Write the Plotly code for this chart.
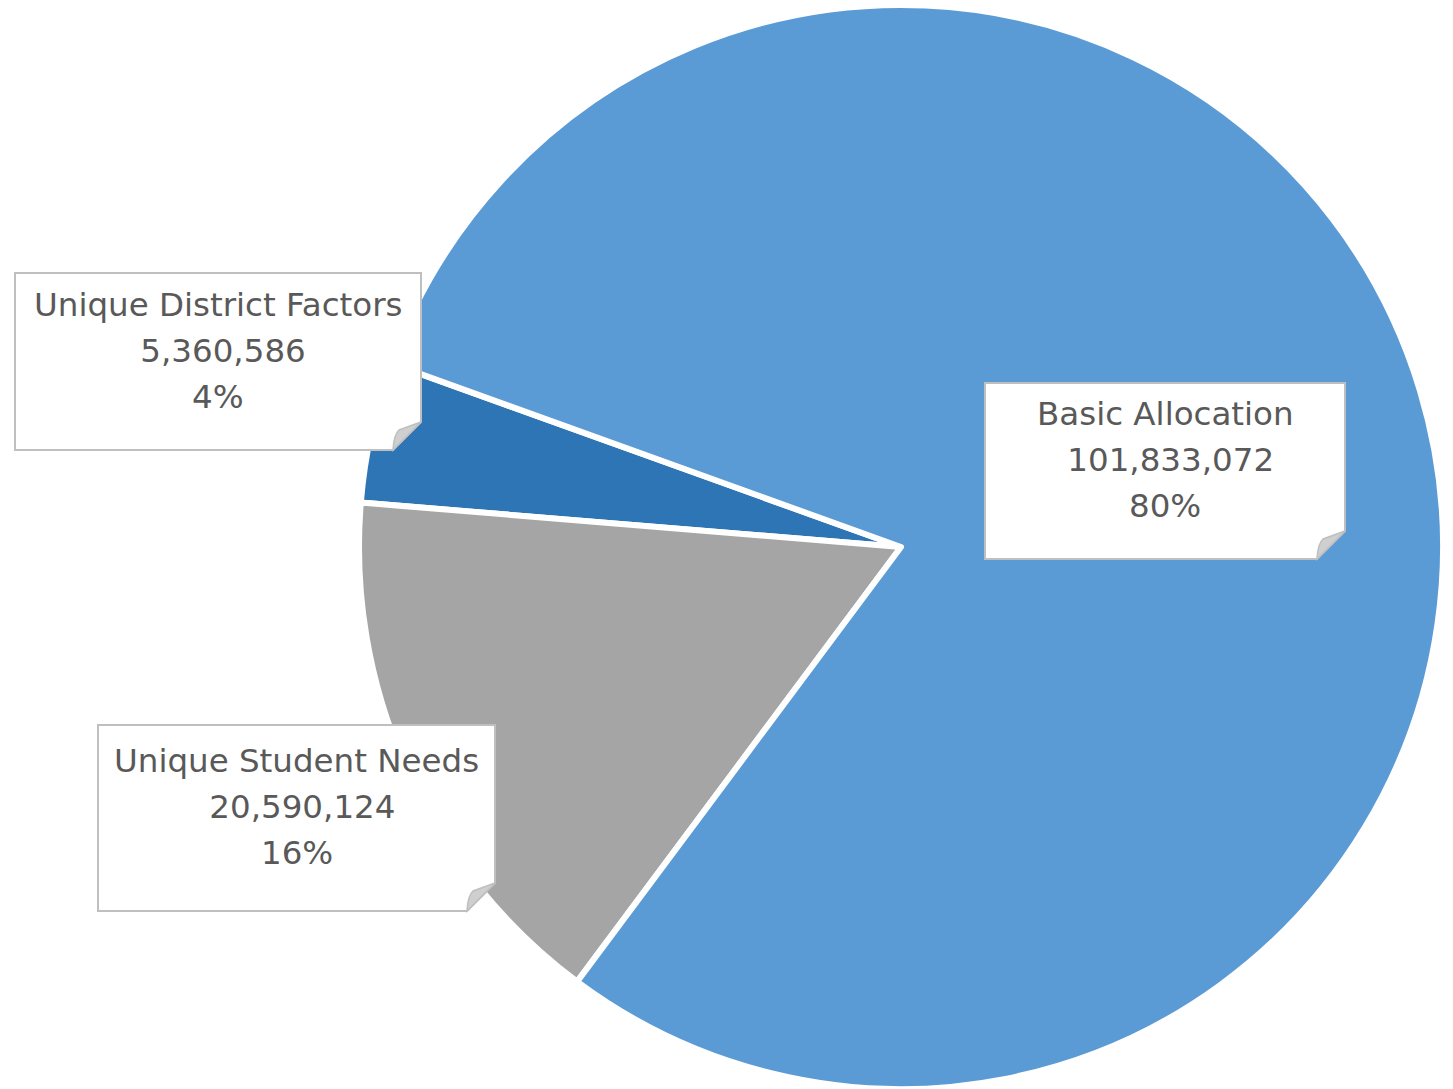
import plotly.graph_objects as go

# Funding components (slice order runs counter-clockwise from the upper-left edge)
categories = ["Unique District Factors", "Unique Student Needs", "Basic Allocation"]
amounts = [5360586, 20590124, 101833072]
slice_colors = ["#2E75B6", "#A5A5A5", "#5B9BD5"]

W, H = 1453, 1089

# Callout boxes in pixel space: (left, top, right, bottom)
boxes = {
    "Unique District Factors": (15, 273, 421, 450),
    "Unique Student Needs": (98, 725, 495, 911),
    "Basic Allocation": (985, 383, 1345, 559),
}
line_offsets = [-46, 0, 46]


def px(x):
    return x / W


def py(y):
    return 1 - y / H


fig = go.Figure()

cx, cy, r = 901, 547, 542
fig.add_trace(go.Pie(
    labels=categories,
    values=amounts,
    sort=False,
    direction="counterclockwise",
    rotation=-85.3,
    marker=dict(colors=slice_colors, line=dict(color="white", width=6)),
    textinfo="none",
    hoverinfo="label+value+percent",
    showlegend=False,
    domain=dict(x=[px(cx - r), px(cx + r)], y=[py(cy + r), py(cy - r)]),
))

total = sum(amounts)
shapes = []
annotations = []
c = 28  # folded corner size
for name, amt in zip(categories, amounts):
    x0, y0, x1, y1 = boxes[name]
    outline = (
        f"M {px(x0)},{py(y0)} L {px(x1)},{py(y0)} L {px(x1)},{py(y1 - c)} "
        f"L {px(x1 - c)},{py(y1)} L {px(x0)},{py(y1)} Z"
    )
    shapes.append(dict(type="path", xref="paper", yref="paper", path=outline,
                       fillcolor="white", line=dict(color="#BFBFBF", width=2)))
    fold = (
        f"M {px(x1)},{py(y1 - c)} L {px(x1 - c + 6)},{py(y1 - c + 8)} "
        f"Q {px(x1 - c + 1)},{py(y1 - c + 12)} {px(x1 - c)},{py(y1)} Z"
    )
    shapes.append(dict(type="path", xref="paper", yref="paper", path=fold,
                       fillcolor="#CFCFCF", line=dict(color="#BFBFBF", width=1.5)))

    mid_x = (x0 + x1) / 2
    mid_y = (y0 + y1) / 2 - 11
    lines = [name, f" {amt:,}", f"{round(amt / total * 100)}%"]
    for txt, off in zip(lines, line_offsets):
        annotations.append(dict(
            x=px(mid_x), y=py(mid_y + off), xref="paper", yref="paper",
            text=txt, showarrow=False, xanchor="center", yanchor="middle",
            font=dict(family="DejaVu Sans", size=32.5, color="#595959"),
        ))

fig.update_layout(
    width=W, height=H,
    margin=dict(l=0, r=0, t=0, b=0),
    paper_bgcolor="white",
    plot_bgcolor="white",
    shapes=shapes,
    annotations=annotations,
)

fig.write_html("out.html")
